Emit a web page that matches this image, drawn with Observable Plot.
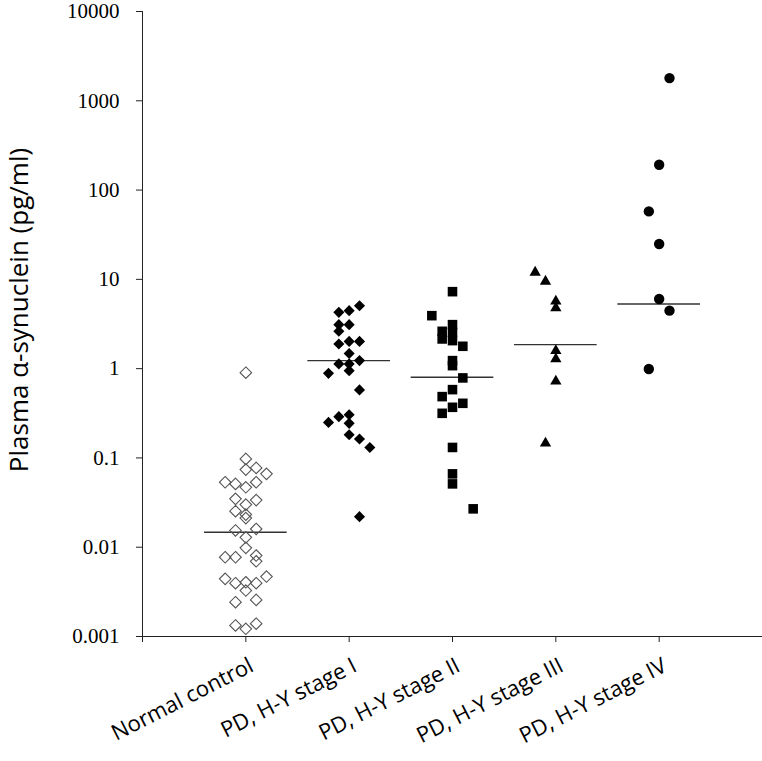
<!DOCTYPE html>
<html>
<head>
<meta charset="utf-8">
<script src="https://cdn.jsdelivr.net/npm/d3@7"></script>
<script src="https://cdn.jsdelivr.net/npm/@observablehq/plot@0.6"></script>
<style>
  html, body { margin: 0; padding: 0; background: #fff; }
  #chart svg { display: block; }
</style>
</head>
<body>
<div id="chart"></div>
<script>
const categories = ["Normal control", "PD, H-Y stage I", "PD, H-Y stage II", "PD, H-Y stage III", "PD, H-Y stage IV"];

// values (pg/ml); slots = horizontal jitter column of each marker
const normalValues = [0.9, 0.0975, 0.074, 0.0773, 0.0663, 0.0534, 0.0512, 0.0469, 0.0534, 0.0348, 0.0337, 0.030, 0.0253, 0.0232, 0.0212, 0.0154, 0.016, 0.0129, 0.00984, 0.00807, 0.00696, 0.00772, 0.00772, 0.00442, 0.00395, 0.00405, 0.00395, 0.00469, 0.00327, 0.00257, 0.00242, 0.00133, 0.00122, 0.00139];
const normalSlots  = [0, 0, 0, 1, 2, -2, -1, 0, 1, -1, 1, 0, -1, 0, 0, -1, 1, 0, 0, 1, 1, -2, -1, -2, -1, 0, 1, 2, 0, 1, -1, -1, 0, 1];

const stage1Values = [5.07, 4.27, 4.46, 3.11, 3.11, 2.62, 1.89, 2.02, 2.02, 1.48, 1.23, 1.13, 1.13, 0.95, 0.886, 0.578, 0.29, 0.305, 0.25, 0.244, 0.182, 0.163, 0.131, 0.022];
const stage1Slots  = [1, -1, 0, -1, 0, -1, -1, 0, 1, 0, 1, -1, 0, 0, -2, 1, -1, 0, -2, 0, 0, 1, 2, 1];

const stage2Values = [7.28, 3.92, 3.11, 2.62, 2.55, 2.15, 2.06, 1.78, 1.23, 1.08, 0.787, 0.582, 0.486, 0.409, 0.369, 0.316, 0.131, 0.0663, 0.0512, 0.0269];
const stage2Slots  = [0, -2, 0, -1, 0, -1, 0, 1, 0, 0, 1, 0, -1, 1, 0, -1, 0, 0, 0, 2];

const stage3Values = [11.97, 9.49, 5.67, 4.78, 1.59, 1.28, 0.721, 0.146];
const stage3Slots  = [-2, -1, 0, 0, 0, 0, 0, -1];

const stage4Values = [1796, 192, 57.7, 24.9, 6.03, 4.46, 0.99];
const stage4Slots  = [1, 0, -1, 0, 0, 1, -1];

const medians = [0.0147, 1.23, 0.80, 1.86, 5.3];

const yTicks = [0.001, 0.01, 0.1, 1, 10, 100, 1000, 10000];
const yTickLabels = ["0.001", "0.01", "0.1", "1", "10", "100", "1000", "10000"];
const yLabel = "Plasma \u03B1-synuclein (pg/ml)";

const groups = [
  {values: normalValues, slots: normalSlots},
  {values: stage1Values, slots: stage1Slots},
  {values: stage2Values, slots: stage2Slots},
  {values: stage3Values, slots: stage3Slots},
  {values: stage4Values, slots: stage4Slots}
];
const rows = groups.map((g, gi) => g.values.map((v, k) => ({group: gi, value: v, slot: g.slots[k]})));
const medianRows = medians.map((m, i) => ({group: i, value: m}));
const labelRows = categories.map((c, i) => ({group: i, label: c}));
const yLabelMap = new Map(yTicks.map((t, i) => [t, yTickLabels[i]]));

const SLOT = 0.1;
const xOf = d => d.group + d.slot * SLOT;

const serif = "'Liberation Serif', 'Times New Roman', serif";
const sans = "'Open Sans', 'Noto Sans', sans-serif";

const chart = Plot.plot({
  width: 762,
  height: 761,
  marginLeft: 142,
  marginRight: 0,
  marginTop: 11,
  marginBottom: 125,
  style: {background: "#fff", color: "#000", overflow: "visible"},
  x: {type: "linear", domain: [-1, 5], axis: null},
  y: {type: "log", domain: [0.001, 10000], axis: null},
  marks: [
    Plot.ruleX([-1], {stroke: "#222", strokeWidth: 1}),
    Plot.ruleY([0.001], {stroke: "#222", strokeWidth: 1}),
    Plot.axisX({
      ticks: [-1, 0, 1, 2, 3, 4],
      tickFormat: () => "",
      tickSize: 6,
      stroke: "#222",
      label: null
    }),
    Plot.axisY({
      ticks: yTicks,
      tickFormat: d => yLabelMap.get(d),
      tickSize: 6,
      tickPadding: 17,
      fontSize: 21,
      fontFamily: serif,
      stroke: "#222",
      fill: "#000",
      label: null
    }),
    Plot.text(labelRows, {
      x: "group",
      y: () => 0.001,
      text: "label",
      rotate: -27,
      textAnchor: "end",
      lineAnchor: "top",
      dx: 2,
      dy: 20,
      fontSize: 22,
      fontFamily: sans,
      fill: "#000"
    }),
    Plot.text([yLabel], {
      frameAnchor: "left",
      textAnchor: "middle",
      lineAnchor: "middle",
      dx: -123,
      dy: -14,
      rotate: -90,
      fontSize: 26,
      fontFamily: sans,
      fill: "#000"
    }),
    Plot.ruleY(medianRows, {
      y: "value",
      x1: d => d.group - 0.4,
      x2: d => d.group + 0.4,
      stroke: "#333",
      strokeWidth: 1.4
    }),
    Plot.dot(rows[0], {x: xOf, y: "value", symbol: "diamond2", r: 5.2, fill: "none", stroke: "#555", strokeWidth: 1.1}),
    Plot.dot(rows[1], {x: xOf, y: "value", symbol: "diamond2", r: 5, fill: "#000", stroke: "none"}),
    Plot.dot(rows[2], {x: xOf, y: "value", symbol: "square", r: 5.4, fill: "#000", stroke: "none"}),
    Plot.dot(rows[3], {x: xOf, y: "value", symbol: "triangle", r: 4.2, fill: "#000", stroke: "none"}),
    Plot.dot(rows[4], {x: xOf, y: "value", symbol: "circle", r: 5.2, fill: "#000", stroke: "none"})
  ]
});
document.getElementById("chart").appendChild(chart);
</script>
</body>
</html>
